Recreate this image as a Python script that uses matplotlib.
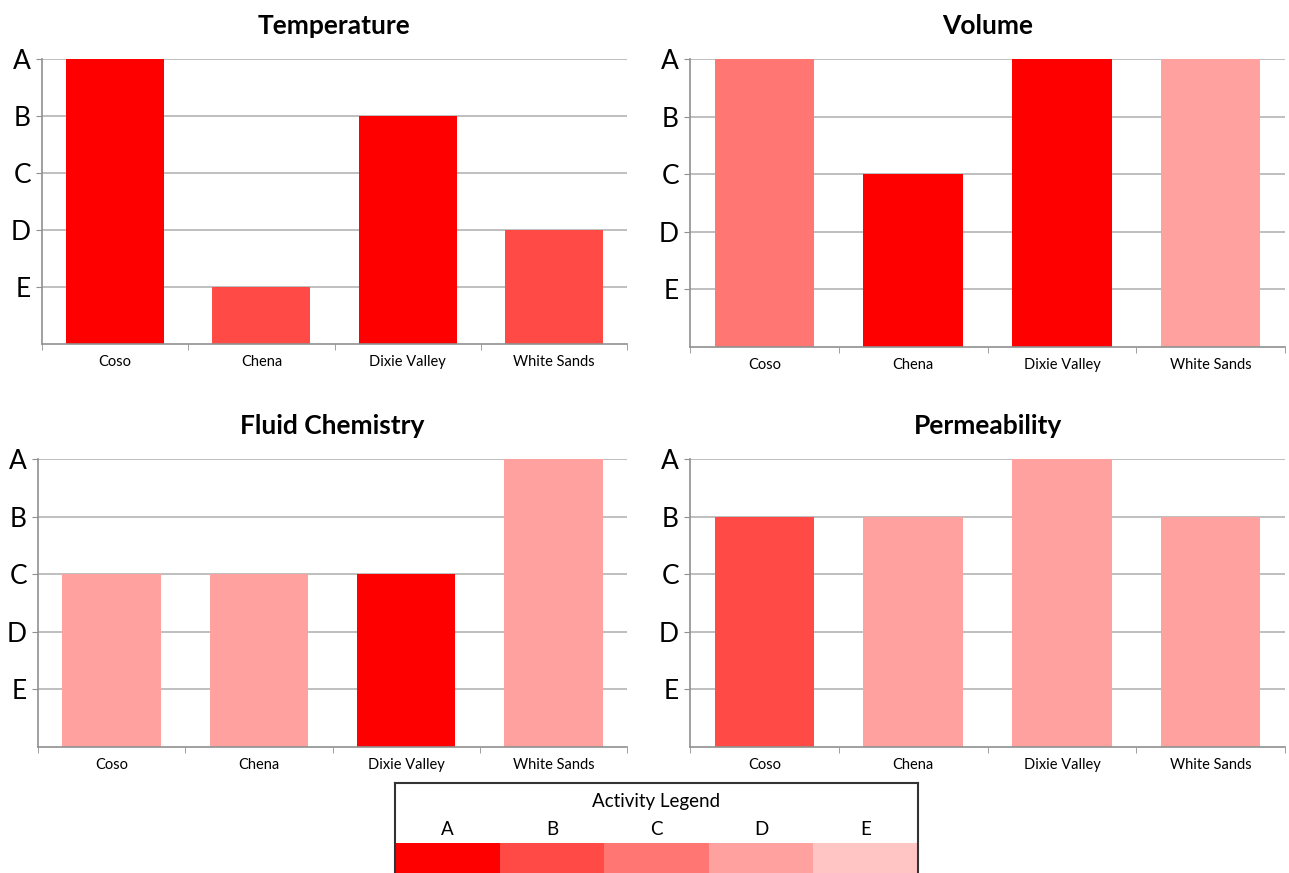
import matplotlib.pyplot as plt

plt.rcParams['font.family'] = ['Lato', 'DejaVu Sans']

# data
sites = ['Coso', 'Chena', 'Dixie Valley', 'White Sands']
levels = ['A', 'B', 'C', 'D', 'E']
level_colors = {'A': '#FF0000', 'B': '#FF4A45', 'C': '#FF7672', 'D': '#FFA29F', 'E': '#FFC4C4'}

titles = ['Temperature', 'Volume', 'Fluid Chemistry', 'Permeability']
# bar height as a grade (A = 5 ... E = 1)
temperature = ['A', 'E', 'B', 'D']
volume = ['A', 'C', 'A', 'A']
fluid_chem = ['C', 'C', 'C', 'A']
permeability = ['B', 'B', 'A', 'B']
# activity colour per bar
temperature_act = ['A', 'B', 'A', 'B']
volume_act = ['C', 'A', 'A', 'D']
fluid_chem_act = ['D', 'D', 'A', 'D']
permeability_act = ['B', 'D', 'D', 'D']

grades = [temperature, volume, fluid_chem, permeability]
acts = [temperature_act, volume_act, fluid_chem_act, permeability_act]

grade_val = {'A': 5, 'B': 4, 'C': 3, 'D': 2, 'E': 1}

W, H = 1289, 873
fig = plt.figure(figsize=(W / 100, H / 100), dpi=100)

# panel boxes in pixels: left, right, top, bottom
boxes = [(42, 627, 59, 344), (690, 1285, 59, 347),
         (38, 627, 459, 747), (690, 1285, 459, 747)]

for title, g, a, (l, r, t, b) in zip(titles, grades, acts, boxes):
    ax = fig.add_axes([l / W, 1 - b / H, (r - l) / W, (b - t) / H])
    x = range(len(sites))
    ax.bar(x, [grade_val[v] for v in g], width=0.67,
           color=[level_colors[c] for c in a], zorder=2)
    ax.set_xlim(-0.5, len(sites) - 0.5)
    ax.set_ylim(0, 5)
    ax.set_yticks([5, 4, 3, 2, 1])
    ax.set_yticklabels(levels, fontsize=19)
    ax.yaxis.grid(True, color='#b4b4b4', linewidth=1.2, zorder=1)
    ax.set_xticks(list(x))
    ax.set_xticklabels(sites, fontsize=10.5)
    ax.set_xticks([i - 0.5 for i in range(len(sites) + 1)], minor=True)
    ax.tick_params(axis='x', which='major', length=0, pad=8)
    ax.tick_params(axis='x', which='minor', length=4, color='#909090')
    ax.tick_params(axis='y', length=4, color='#909090', pad=4)
    for s in ['top', 'right']:
        ax.spines[s].set_visible(False)
    for s in ['left', 'bottom']:
        ax.spines[s].set_color('#909090')
        ax.spines[s].set_linewidth(1.2)
    ax.set_title(title, fontsize=19, fontweight='bold', pad=18)

# activity legend
lax = fig.add_axes([395 / W, 0, 523 / W, 90 / H])
lax.bar(range(len(levels)), [1] * len(levels), width=1.0, bottom=0,
        color=[level_colors[c] for c in levels])
lax.set_xlim(-0.5, len(levels) - 0.5)
lax.set_ylim(0, 3)
for i, lv in enumerate(levels):
    lax.text(i, 1.45, lv, ha='center', va='center', fontsize=13.5)
lax.text((len(levels) - 1) / 2, 2.4, 'Activity Legend', ha='center', va='center', fontsize=13.5)
lax.set_xticks([])
lax.set_yticks([])
lax.spines['bottom'].set_visible(False)
for s in ['top', 'left', 'right']:
    lax.spines[s].set_color('#333333')
    lax.spines[s].set_linewidth(1.5)

fig.savefig('out.png', dpi=100)
